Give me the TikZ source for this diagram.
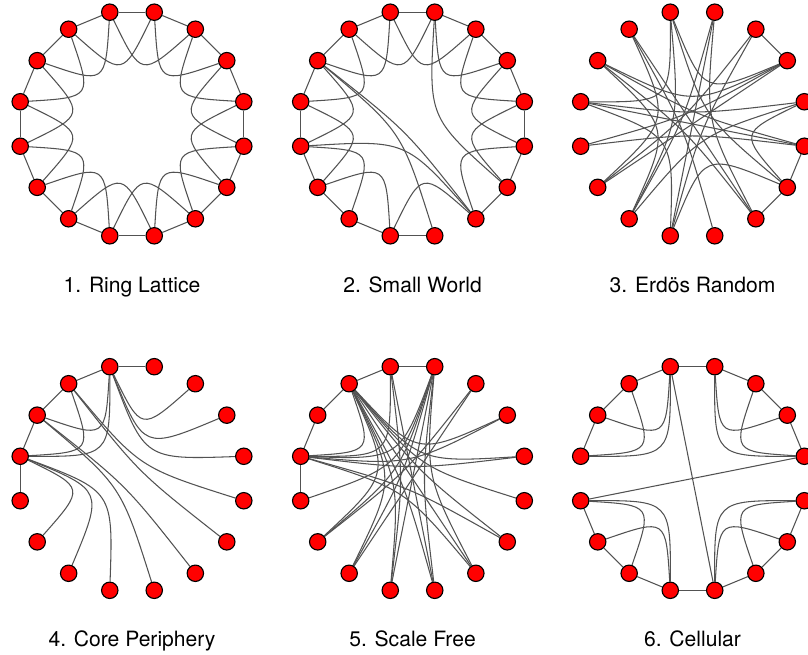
\documentclass[tikz,border=0pt]{standalone}
\usepackage{fontspec}
\setmainfont{TeX Gyre Heros}
\usetikzlibrary{calc}
\pgfdeclarelayer{edges}
\pgfsetlayers{edges,main}
\tikzset{
  vertex/.style={circle, draw=black, fill=red, line width=0.8pt, minimum size=0.41cm, inner sep=0pt},
  tie/.style={draw=black!68, line width=0.75pt},
  title/.style={anchor=base, font=\fontsize{15}{18}\selectfont}
}
% ring of 16 vertices: name, centre x, centre y (pixels)
\newcommand{\ring}[3]{%
  \coordinate (#1o) at (#2,#3);
  \foreach \k in {0,...,15}
    \path (#1o) ++(22.5*\k-78.75:114) node[vertex] (#1\k) {};
}
% tie from vertex #2 to vertex #3 of ring #1, bent round a point inside
\newcommand{\tie}[3]{%
  \pgfmathtruncatemacro{\dd}{min(abs(#2-#3),16-abs(#2-#3))}%
  \ifnum\dd<2
    \draw[tie] (#1#2) -- (#1#3);
  \else
    \ifcase\dd \or \or \def\ss{0.455}\or \def\ss{0.325}\or \def\ss{0.28}%
      \or \def\ss{0.27}\or \def\ss{0.3}\or \def\ss{0.4}\or \def\ss{0}\fi
    \coordinate (half) at ($(#1#2)!0.5!(#1#3)$);
    \coordinate (bend) at ($(#1o)!\ss!(half)$);
    \draw[tie] (#1#2) .. controls (bend) and (bend) .. (#1#3);
  \fi}

\begin{document}
\begin{tikzpicture}[x=0.025cm, y=-0.025cm]
\useasboundingbox (0,0) rectangle (808,655);

\ring{a}{132}{124}
\ring{b}{412.5}{124}
\ring{c}{692.5}{124}
\ring{d}{132}{478.5}
\ring{e}{412.5}{478.5}
\ring{f}{692.5}{478.5}

\node[title] (ta) at (132,293) {1. Ring Lattice};
\node[title] (tb) at (412.5,293) {2. Small World};
\node[title] (tc) at (692.5,293) {3. Erdös Random};
\node[title] (td) at (132,646) {4. Core Periphery};
\node[title] (te) at (412.5,646) {5. Scale Free};
\node[title] (tf) at (692.5,646) {6. Cellular};

\begin{pgfonlayer}{edges}
% ring lattice
\foreach \k in {0,...,15} {
  \pgfmathtruncatemacro{\kn}{mod(\k+1,16)}
  \pgfmathtruncatemacro{\knn}{mod(\k+2,16)}
  \tie{a}{\k}{\kn}
  \tie{a}{\k}{\knn}
}
% small world
\foreach \i/\j in {0/1,1/2,2/3,3/4,4/5,5/6,7/8,8/9,9/10,10/11,11/12,12/13,13/14,14/15,15/0,
  0/2,1/3,2/4,3/5,4/6,6/8,8/10,9/11,10/12,11/13,12/14,13/15,14/0,15/1,
  0/5,11/6,13/6,13/7}
  {\tie{b}{\i}{\j}}
% random
\foreach \i/\j in {1/2,4/5,5/6,3/5,14/6,14/7,14/10,15/5,15/12,15/9,0/8,0/6,0/9,1/8,1/10,
  2/13,2/10,2/15,3/12,3/9,4/12,4/11,4/13,5/8,6/13,12/8,13/9,11/2}
  {\tie{c}{\i}{\j}}
% core periphery
\foreach \i/\j in {15/0,15/14,14/13,13/12,12/11,15/13,15/12,14/12,
  15/1,15/2,15/3,14/4,14/5,13/6,13/7,12/8,12/9,12/10}
  {\tie{d}{\i}{\j}}
% scale free
\foreach \i/\j in {15/0,15/14,14/13,13/12,12/11,
  14/2,14/3,14/4,14/5,14/6,14/7,14/8,14/9,14/12,14/10,
  12/15,12/0,12/2,12/3,12/5,12/6,
  0/6,0/7,0/8,0/9,0/10,0/11,15/7,15/8,1/10,1/9}
  {\tie{e}{\i}{\j}}
% cellular
\foreach \i/\j in {15/14,14/13,13/12,15/13,14/12,15/12,
  0/1,1/2,2/3,0/2,1/3,0/3,
  4/5,5/6,6/7,4/6,5/7,4/7,
  8/9,9/10,10/11,8/10,9/11,8/11,
  15/0,7/8,15/7,11/3}
  {\tie{f}{\i}{\j}}
\end{pgfonlayer}
\end{tikzpicture}
\end{document}
